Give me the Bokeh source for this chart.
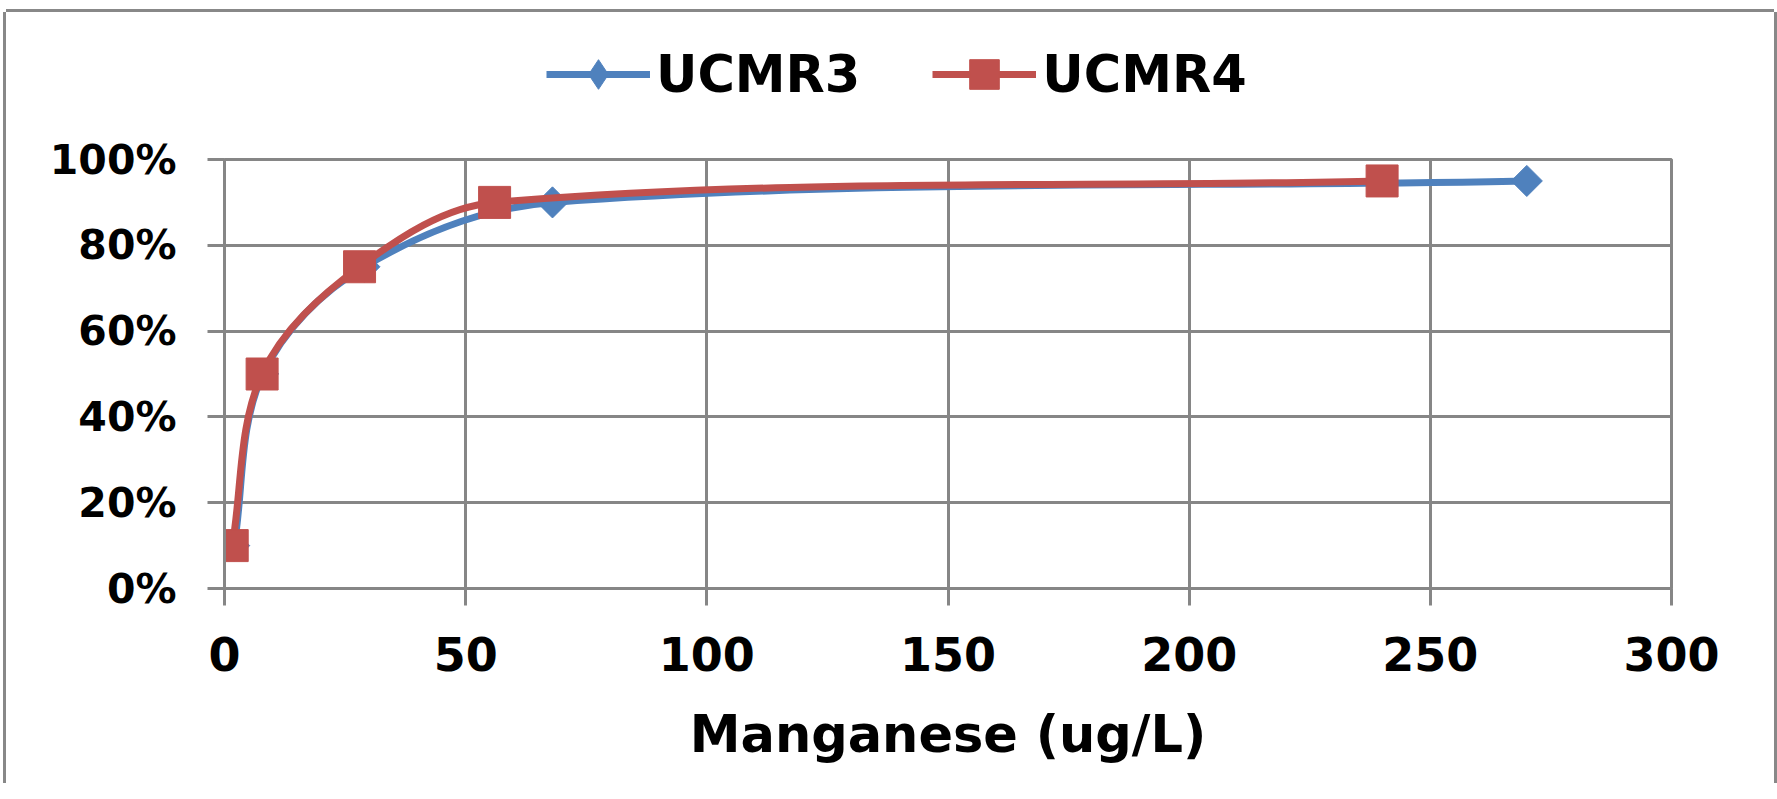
import math
from bokeh.plotting import figure
from bokeh.layouts import column
from bokeh.models import (Range1d, FixedTicker, NumeralTickFormatter, Legend,
                          LegendItem, ColumnDataSource)
from bokeh.embed import file_html
from bokeh.resources import INLINE

# ---- data ----
ucmr3_x = [2, 8, 29, 68, 270]
ucmr3_y = [0.10, 0.50, 0.75, 0.90, 0.95]
ucmr4_x = [1.6, 7.8, 28, 56, 240]
ucmr4_y = [0.10, 0.50, 0.75, 0.90, 0.95]
series_names = ["UCMR3", "UCMR4"]
x_ticks = [0, 50, 100, 150, 200, 250, 300]
y_ticks = [0.0, 0.2, 0.4, 0.6, 0.8, 1.0]
x_title = "Manganese (ug/L)"

BLUE = "#4F81BD"
RED = "#C0504D"
GRAY = "#868686"
FONT = "DejaVu Sans"
NAN = float("nan")

W = 1768
LEG_H = 118
MAIN_H = 653
X_SPAN, Y_SPAN = 300.0, 1.0
# approx frame size in px (used only to shape the smoothing like Excel does on screen)
FW, FH = 1447.0, 429.0


def bezier_source(xs, ys):
    """Excel-style smoothed line: cubic Beziers with length-scaled tangents."""
    n = len(xs)
    sx = [x / X_SPAN * FW for x in xs]
    sy = [y / Y_SPAN * FH for y in ys]

    def tangent(i):
        a = max(i - 1, 0)
        b = min(i + 1, n - 1)
        dx, dy = sx[b] - sx[a], sy[b] - sy[a]
        L = math.hypot(dx, dy) or 1.0
        return dx / L, dy / L

    d = dict(x0=[], y0=[], x1=[], y1=[], cx0=[], cy0=[], cx1=[], cy1=[])
    for i in range(n - 1):
        seg = math.hypot(sx[i + 1] - sx[i], sy[i + 1] - sy[i]) / 3.0
        t0 = tangent(i)
        t1 = tangent(i + 1)
        d["x0"].append(xs[i]); d["y0"].append(ys[i])
        d["x1"].append(xs[i + 1]); d["y1"].append(ys[i + 1])
        d["cx0"].append((sx[i] + t0[0] * seg) / FW * X_SPAN)
        d["cy0"].append((sy[i] + t0[1] * seg) / FH * Y_SPAN)
        d["cx1"].append((sx[i + 1] - t1[0] * seg) / FW * X_SPAN)
        d["cy1"].append((sy[i + 1] - t1[1] * seg) / FH * Y_SPAN)
    return ColumnDataSource(d)


p = figure(width=W, height=MAIN_H, output_backend="svg", toolbar_location=None,
           x_range=Range1d(0, 300), y_range=Range1d(0, 1),
           min_border_left=218, min_border_right=103,
           min_border_top=29, min_border_bottom=195)

p.background_fill_color = "white"
p.border_fill_color = "white"
p.outline_line_color = GRAY
p.outline_line_width = 3

for g in (p.xgrid, p.ygrid):
    g.grid_line_color = GRAY
    g.grid_line_width = 3
p.xaxis.ticker = FixedTicker(ticks=x_ticks)
p.yaxis.ticker = FixedTicker(ticks=y_ticks)
p.yaxis.formatter = NumeralTickFormatter(format="0%")

for ax in (p.xaxis, p.yaxis):
    ax.axis_line_color = GRAY
    ax.axis_line_width = 3
    ax.major_tick_line_color = GRAY
    ax.major_tick_line_width = 3
    ax.major_tick_out = 17
    ax.major_tick_in = 0
    ax.minor_tick_line_color = None
    ax.major_label_text_font = FONT
    ax.major_label_text_font_style = "bold"
    ax.major_label_text_color = "black"

p.xaxis.major_label_text_font_size = "46px"
p.yaxis.major_label_text_font_size = "41px"
p.xaxis.major_label_standoff = 31
p.yaxis.major_label_standoff = 31
p.xaxis.axis_label = x_title
p.xaxis.axis_label_text_font = FONT
p.xaxis.axis_label_text_font_style = "bold"
p.xaxis.axis_label_text_font_size = "51px"
p.xaxis.axis_label_text_color = "black"
p.xaxis.axis_label_standoff = 31

# series UCMR3
p.bezier(x0="x0", y0="y0", x1="x1", y1="y1", cx0="cx0", cy0="cy0",
         cx1="cx1", cy1="cy1", source=bezier_source(ucmr3_x, ucmr3_y),
         line_color=BLUE, line_width=7)
p.scatter(ucmr3_x, ucmr3_y, marker="square", size=22, angle=math.pi / 4,
          fill_color=BLUE, line_color=BLUE)

# series UCMR4
p.bezier(x0="x0", y0="y0", x1="x1", y1="y1", cx0="cx0", cy0="cy0",
         cx1="cx1", cy1="cy1", source=bezier_source(ucmr4_x, ucmr4_y),
         line_color=RED, line_width=7)
p.scatter(ucmr4_x, ucmr4_y, marker="square", size=32,
          fill_color=RED, line_color=RED)

# ---- legend strip above the chart ----
lf = figure(width=W, height=LEG_H, output_backend="svg", toolbar_location=None,
            x_range=Range1d(0, 1), y_range=Range1d(0, 1),
            x_axis_type=None, y_axis_type=None,
            min_border_left=0, min_border_right=0,
            min_border_top=0, min_border_bottom=0)
lf.grid.visible = False
lf.outline_line_color = None
lf.background_fill_color = "white"
lf.border_fill_color = "white"

l3 = lf.line([NAN], [NAN], line_color=BLUE, line_width=7)
k3 = lf.scatter([NAN], [NAN], marker="diamond", size=32,
                fill_color=BLUE, line_color=BLUE)
l4 = lf.line([NAN], [NAN], line_color=RED, line_width=7)
k4 = lf.scatter([NAN], [NAN], marker="square", size=32,
                fill_color=RED, line_color=RED)

legend = Legend(items=[LegendItem(label=series_names[0], renderers=[l3, k3]),
                       LegendItem(label=series_names[1], renderers=[l4, k4])],
                orientation="horizontal", location=(322, 19),
                glyph_width=104, glyph_height=74, label_standoff=6,
                spacing=72, padding=0, margin=0,
                label_text_font=FONT, label_text_font_style="bold",
                label_text_font_size="51px", label_text_color="black",
                background_fill_alpha=0, border_line_alpha=0)
lf.add_layout(legend, "center")

page = column(lf, p, spacing=0, margin=(12, 0, 0, 6),
              styles={"box-shadow": "-3px 0 0 0 #888888, 3px 0 0 0 #888888, "
                                    "0 -3px 0 0 #888888"})

open("out.html", "w").write(file_html(page, INLINE))
